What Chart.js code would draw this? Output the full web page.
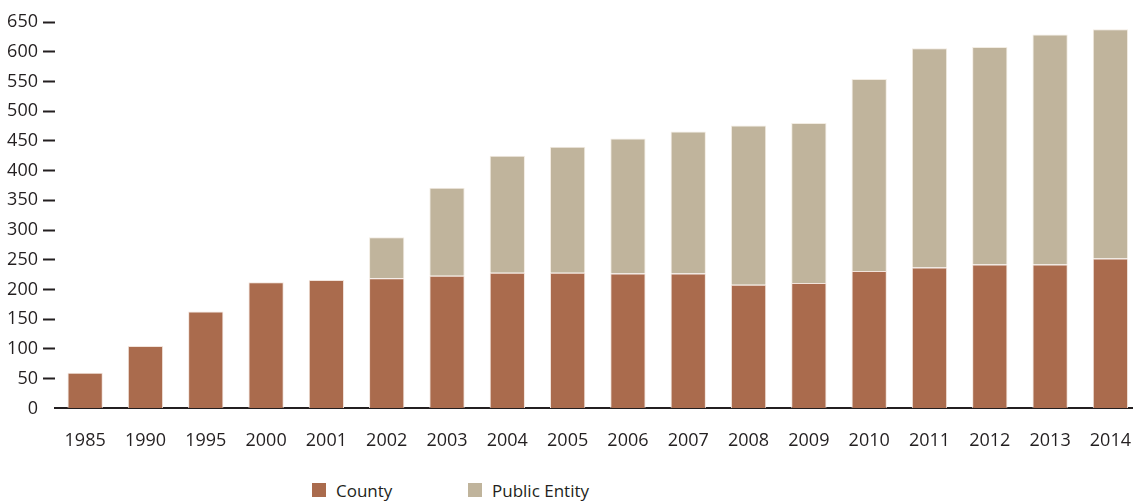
<!DOCTYPE html>
<html>
<head>
<meta charset="utf-8">
<script src="https://cdn.jsdelivr.net/npm/chart.js@4.4.1/dist/chart.umd.min.js"></script>
<style>
  html, body { margin: 0; padding: 0; background: #ffffff; overflow: hidden; width: 1133px; height: 502px; }
  #wrap { position: absolute; left: 0; top: 0; width: 1160px; height: 474px; }
  #legend { position: absolute; top: 478px; left: 0; width: 1133px; height: 24px; font-family: "Open Sans", sans-serif; font-size: 17px; color: #231f20; }
  .item { position: absolute; top: 0; display: flex; align-items: center; height: 24px; }
  .box { width: 14px; height: 14px; margin-right: 10px; }
</style>
</head>
<body>
<div id="wrap"><canvas id="c" width="1153" height="474"></canvas></div>
<div id="legend">
  <div class="item" style="left:312px"><span class="box" style="background:#aa6b4d"></span><span>County</span></div>
  <div class="item" style="left:468px"><span class="box" style="background:#c0b49c"></span><span>Public Entity</span></div>
</div>
<script>
const categories = ["1985","1990","1995","2000","2001","2002","2003","2004","2005","2006","2007","2008","2009","2010","2011","2012","2013","2014"];
const countyValues = [60, 105, 163, 212, 216, 219, 223, 228, 228, 227, 227, 208, 211, 231, 237, 242, 242, 252];
const publicEntityValues = [0, 0, 0, 0, 0, 69, 148, 197, 212, 227, 239, 268, 269, 323, 369, 366, 387, 386];
const yTicks = [0, 50, 100, 150, 200, 250, 300, 350, 400, 450, 500, 550, 600, 650];

const textColor = "#231f20";
const fontFamily = "'Open Sans', sans-serif";

const chart = new Chart(document.getElementById("c"), {
  type: "bar",
  data: {
    labels: categories,
    datasets: [
      { label: "County", data: countyValues, backgroundColor: "#aa6b4d", borderColor: "#f2e4dc", borderWidth: 1, barPercentage: 0.585, categoryPercentage: 1.0 },
      { label: "Public Entity", data: publicEntityValues, backgroundColor: "#c0b49c", borderColor: "#f2ece2", borderWidth: 1, barPercentage: 0.585, categoryPercentage: 1.0 }
    ]
  },
  options: {
    responsive: false,
    animation: false,
    layout: { padding: { top: 22, right: 0, bottom: 0, left: 0 } },
    plugins: { legend: { display: false }, tooltip: { enabled: false } },
    scales: {
      x: {
        stacked: true,
        grid: { display: false, drawTicks: false },
        border: { display: true, color: textColor, width: 2 },
        ticks: { color: textColor, font: { family: fontFamily, size: 18 }, padding: 22, maxRotation: 0, autoSkip: false }
      },
      y: {
        stacked: true,
        min: 0,
        max: 650,
        afterBuildTicks: (axis) => { axis.ticks = yTicks.map(v => ({ value: v })); },
        afterFit: (axis) => { axis.width = 55; },
        grid: {
          drawOnChartArea: false,
          drawTicks: true,
          tickLength: 12,
          tickWidth: 2,
          tickColor: (ctx) => (ctx.tick && ctx.tick.value === 0) ? "rgba(0,0,0,0)" : textColor
        },
        border: { display: false },
        ticks: { color: textColor, font: { family: fontFamily, size: 18 }, padding: 5 }
      }
    }
  }
});
</script>
</body>
</html>
